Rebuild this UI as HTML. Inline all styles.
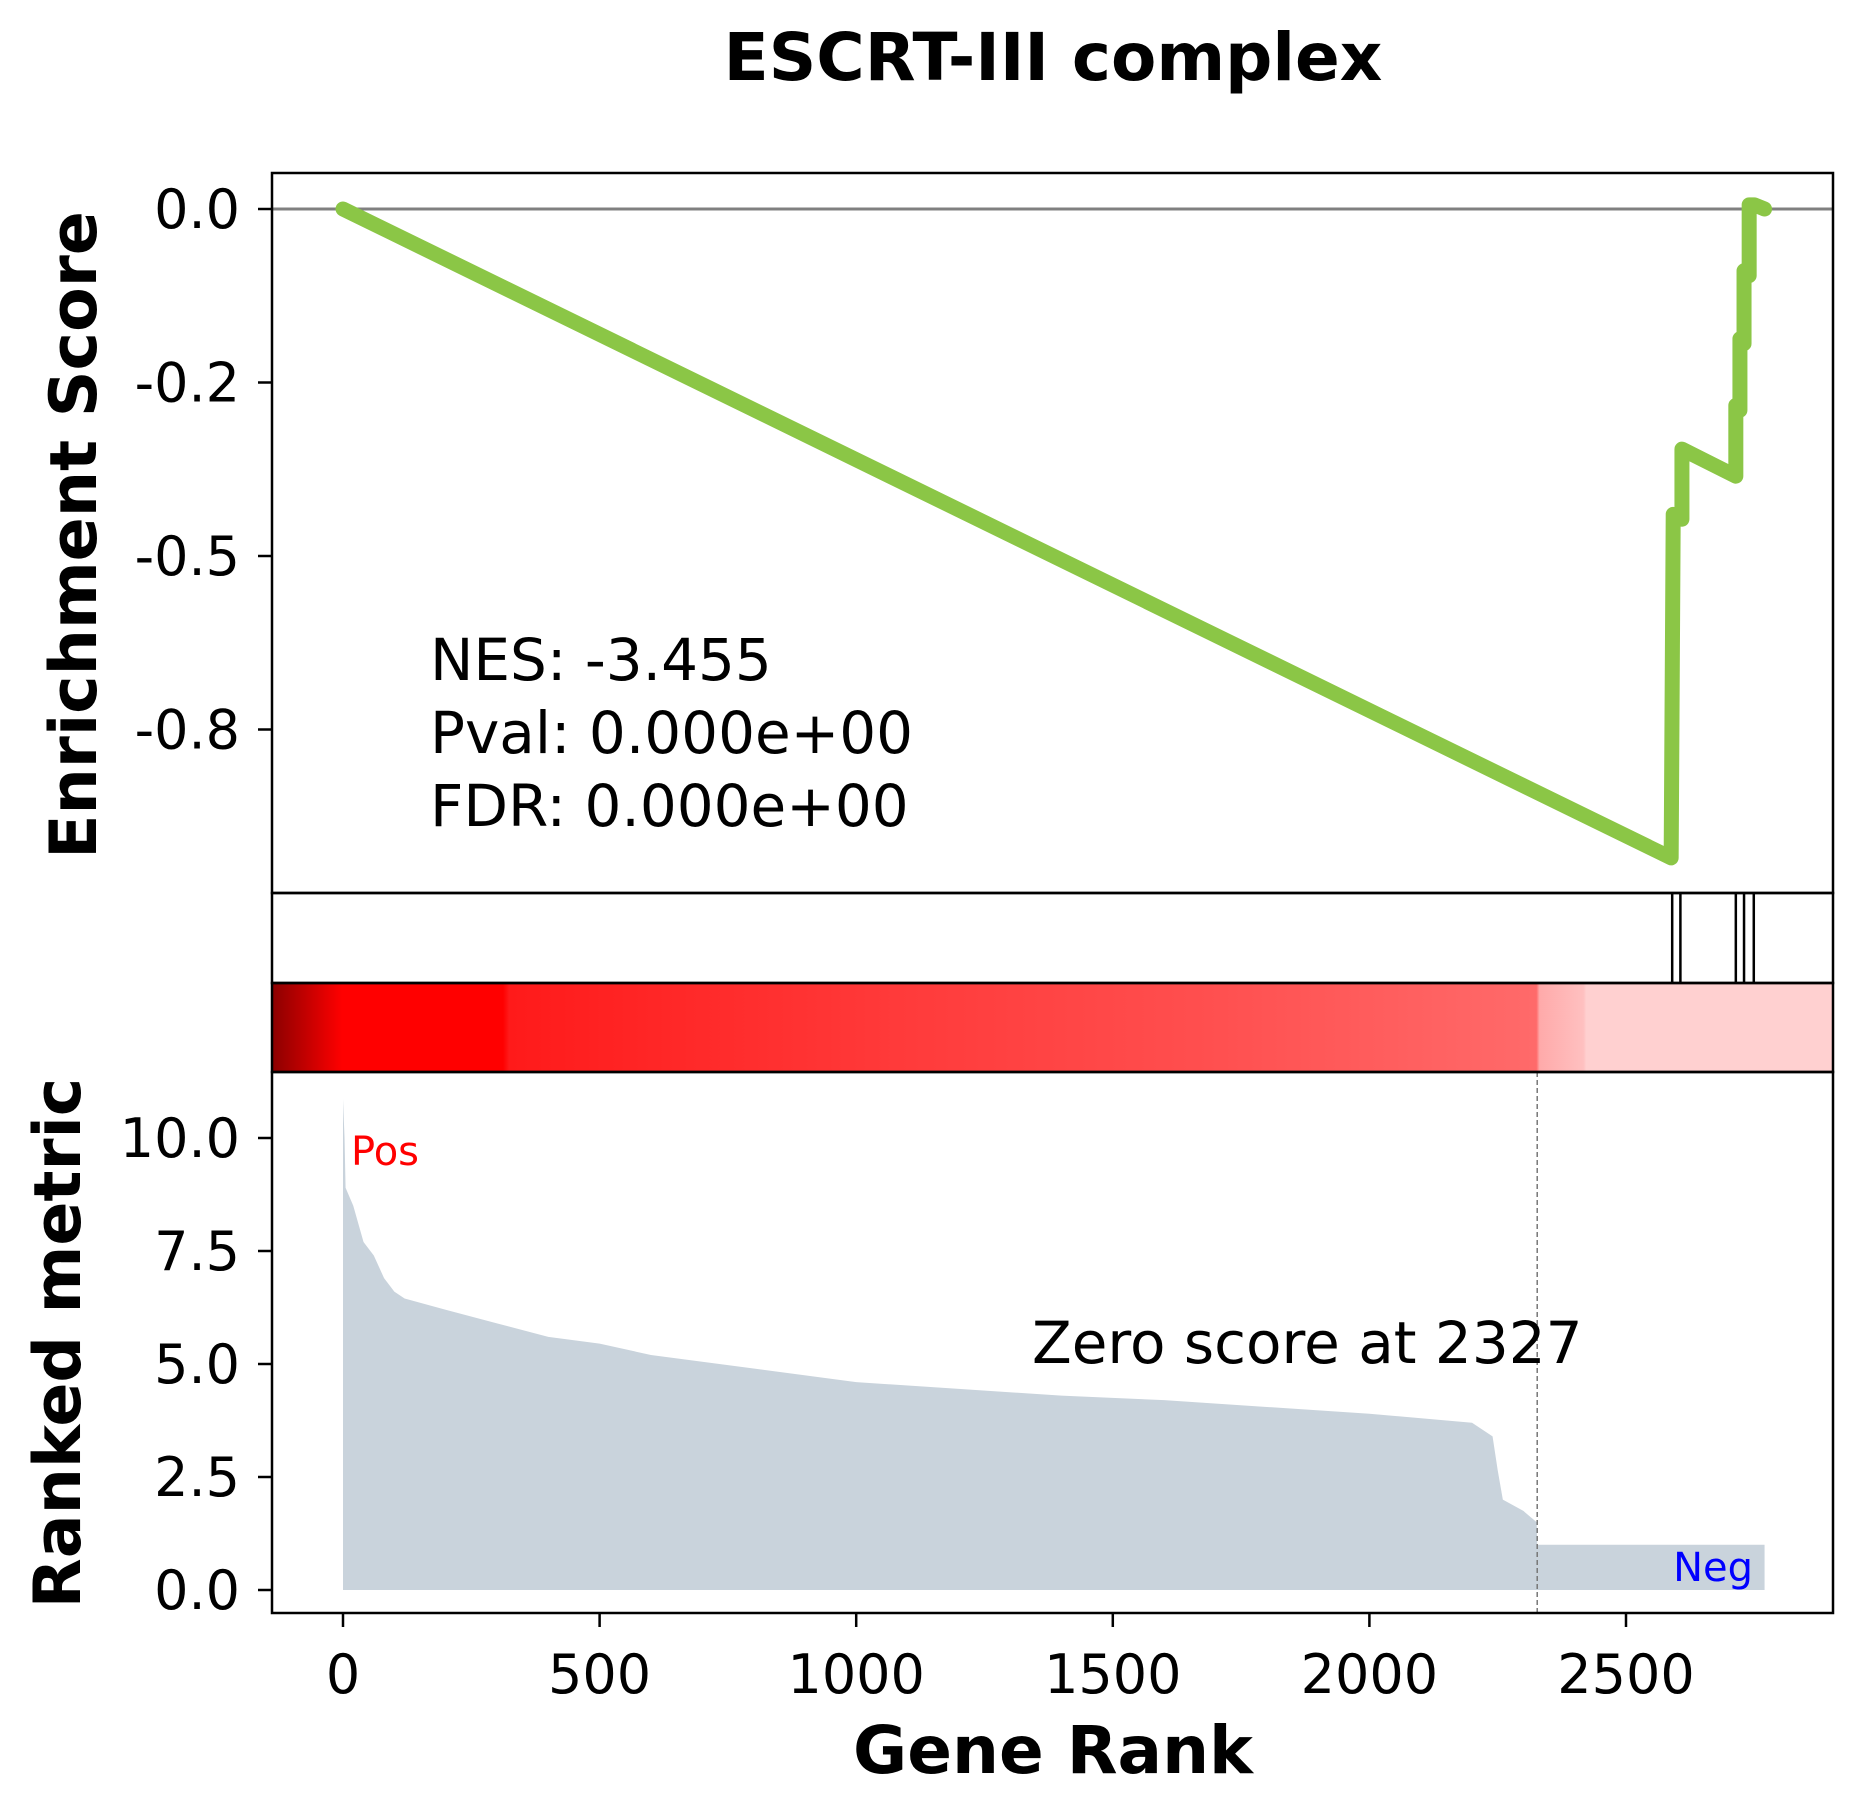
<!DOCTYPE html>
<html><head><meta charset="utf-8"><style>
body{margin:0;background:#fff}
svg{display:block;font-family:"DejaVu Sans","Liberation Sans",sans-serif}
</style></head><body>
<svg id="chart" width="1861" height="1812" viewBox="0 0 1861 1812" xmlns="http://www.w3.org/2000/svg">
<text x="1053" y="80" font-size="66" font-weight="bold" text-anchor="middle">ESCRT-III complex</text>
<g id="g"></g>
</svg>
<script>
const esRanks=[0,2588,2592,2609,2609,2714,2714,2722,2722,2730,2730,2740,2740,2750,2770];
const esValues=[0,-0.935,-0.44,-0.447,-0.346,-0.385,-0.283,-0.29,-0.187,-0.194,-0.089,-0.096,0.006,0.006,0];
const hitRanks=[2590,2606,2714,2730,2749];
const metricRanks=[0,3,5,20,40,60,80,100,120,200,300,400,500,600,800,1000,1200,1400,1600,1800,2000,2200,2240,2250,2260,2300,2326,2327,2770];
const metricValues=[10.86,10.0,8.9,8.5,7.7,7.4,6.9,6.6,6.45,6.2,5.9,5.6,5.45,5.2,4.9,4.6,4.45,4.3,4.2,4.05,3.9,3.7,3.4,2.65,2.0,1.75,1.5,1.0,1.0];
const esTicks=[0,-0.25,-0.5,-0.75];
const esTickLabels=["0.0","-0.2","-0.5","-0.8"];
const metricTicks=[0,2.5,5,7.5,10];
const metricTickLabels=["0.0","2.5","5.0","7.5","10.0"];
const xTicks=[0,500,1000,1500,2000,2500];
const zeroRank=2327;

const L=272,R=1833,T=173,ES_B=893,HIT_B=983,CB_B=1072,B=1613;
const xs=r=>343+r*0.5132;
const yES=v=>209-v*694;
const yM=v=>1590-v*45.2;
const NS="http://www.w3.org/2000/svg";
const g=document.getElementById('g');
function el(t,a,txt){const e=document.createElementNS(NS,t);for(const k in a)e.setAttribute(k,a[k]);if(txt!==undefined)e.textContent=txt;g.appendChild(e);return e;}

const defs=el('defs',{});
const lg=document.createElementNS(NS,'linearGradient');lg.setAttribute('id','cb');lg.setAttribute('x1','0');lg.setAttribute('x2','1');
defs.appendChild(lg);
[[0,'#8b0000'],[0.045,'#ff0000'],[0.148,'#ff0000'],[0.152,'#ff1a1a'],[0.4,'#ff3a3a'],[0.6,'#ff4f4f'],[0.81,'#ff6a6a'],[0.812,'#ffaaaa'],[0.84,'#ffc0c0'],[0.842,'#ffd0d0'],[1,'#ffd0d0']].forEach(s=>{const st=document.createElementNS(NS,'stop');st.setAttribute('offset',s[0]);st.setAttribute('stop-color',s[1]);lg.appendChild(st);});
let e=el('rect',{x:L,y:HIT_B,width:R-L,height:CB_B-HIT_B,fill:'url(#cb)'});



let d='M'+xs(metricRanks[0])+','+yM(0);
metricRanks.forEach((r,i)=>{d+=' L'+xs(r)+','+yM(metricValues[i]);});
d+=' L'+xs(metricRanks[metricRanks.length-1])+','+yM(0)+'Z';
e=el('path',{d:d,fill:'#c9d3dc'});


e=el('line',{x1:xs(zeroRank),x2:xs(zeroRank),y1:CB_B,y2:B,stroke:'#777','stroke-width':1.5,'stroke-dasharray':'5,3'});



e=el('line',{x1:L,x2:R,y1:yES(0),y2:yES(0),stroke:'#808080','stroke-width':3});


e=el('polyline',{points:esRanks.map((r,i)=>xs(r)+','+yES(esValues[i])).join(' '),fill:'none',stroke:'#8bc646','stroke-width':15,'stroke-linejoin':'round','stroke-linecap':'round'});


hitRanks.forEach(r=>{const h=el('line',{x1:xs(r),x2:xs(r),y1:ES_B,y2:HIT_B,stroke:'#000','stroke-width':2.5});

});

[[T,ES_B,'es-axes'],[ES_B,HIT_B,'hits-axes'],[HIT_B,CB_B,'colorbar-axes'],[CB_B,B,'metric-axes']].forEach(f=>{
const r=el('rect',{x:L,y:f[0],width:R-L,height:f[1]-f[0],fill:'none',stroke:'#000','stroke-width':2.5});

});

esTicks.forEach((v,i)=>{el('line',{x1:L-14,x2:L,y1:yES(v),y2:yES(v),stroke:'#000','stroke-width':2.5});
const t=el('text',{x:L-32,y:yES(v)+19,'font-size':54,'text-anchor':'end'},esTickLabels[i]);

});
metricTicks.forEach((v,i)=>{el('line',{x1:L-14,x2:L,y1:yM(v),y2:yM(v),stroke:'#000','stroke-width':2.5});
const t=el('text',{x:L-32,y:yM(v)+19,'font-size':54,'text-anchor':'end'},metricTickLabels[i]);

});
xTicks.forEach(v=>{el('line',{x1:xs(v),x2:xs(v),y1:B,y2:B+14,stroke:'#000','stroke-width':2.5});
const t=el('text',{x:xs(v),y:B+80,'font-size':54,'text-anchor':'middle'},String(v));

});

e=el('text',{x:0,y:0,'font-size':65,'font-weight':'bold','text-anchor':'middle',transform:'translate(96,535) rotate(-90)'},'Enrichment Score');


e=el('text',{x:0,y:0,'font-size':65,'font-weight':'bold','text-anchor':'middle',transform:'translate(80,1343) rotate(-90)'},'Ranked metric');


e=el('text',{x:1053,y:1773,'font-size':66,'font-weight':'bold','text-anchor':'middle'},'Gene Rank');


[['NES: -3.455',680],['Pval: 0.000e+00',753],['FDR: 0.000e+00',826]].forEach(s=>{
const t=el('text',{x:430,y:s[1],'font-size':58},s[0]);

});
e=el('text',{x:1032,y:1363,'font-size':58},'Zero score at '+zeroRank);


e=el('text',{x:351,y:1165,'font-size':40,fill:'#ff0000'},'Pos');


e=el('text',{x:1753,y:1581,'font-size':40,fill:'#0000ff','text-anchor':'end'},'Neg');


</script>
</body></html>
